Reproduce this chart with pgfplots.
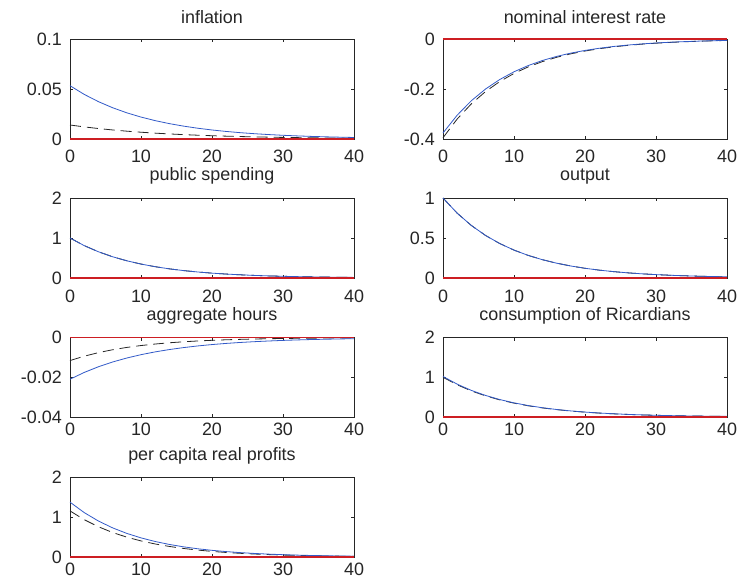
\documentclass[border=0pt]{standalone}
\usepackage{fontspec}
\setmainfont{Liberation Sans}
\usepackage{pgfplots}
\pgfplotsset{compat=1.18}
\definecolor{mblue}{RGB}{50,90,200}
\definecolor{mred}{RGB}{205,30,35}
\definecolor{mgray}{RGB}{38,38,38}
\pgfplotsset{
 every axis title/.style={at={(0.5,1)}, anchor=base, yshift=17.5bp, inner sep=0pt,
   font=\fontsize{18}{18}\selectfont, text=mgray},
 irf/.style={
  scale only axis, width=284bp, anchor=south west,
  xmin=0, xmax=40, xtick={0,10,20,30,40}, xticklabels={0,10,20,30,40},
  xtick pos=both, ytick pos=both, xticklabel pos=lower, yticklabel pos=left,
  tick align=inside, major tick length=3bp, tick style={mgray, line width=0.5bp},
  axis line style={mgray, line width=0.9bp},
  ticklabel style={font=\fontsize{18}{18}\selectfont, text=mgray},
  yticklabel style={inner sep=0pt, anchor=east, xshift=-8bp},
  xticklabel style={inner sep=0pt, anchor=north, yshift=-6bp},
  scaled ticks=false, clip=false,
  /pgf/number format/assume math mode=true,
 },
 dash/.style={black!85, line width=0.8bp, dash pattern=on 11bp off 6bp},
 bl/.style={mblue, line width=0.8bp},
 rd/.style={mred, line width=1.5bp},
}
\begin{document}
\begin{tikzpicture}
\path[use as bounding box] (0,0) rectangle (740bp,-588bp);

% inflation
\begin{axis}[irf, at={(70bp,-139bp)}, height=100bp, ymin=0, ymax=0.1,
  ytick={0,0.05,0.1}, yticklabels={0,0.05,0.1}, title={inflation},
  xticklabel style={yshift=-5bp}, title style={yshift=-1.5bp}]
\addplot[dash] coordinates {(0,0.0140)(2,0.01211)(4,0.01047)(6,0.00906)(8,0.00783)(10,0.00678)(12,0.00586)(14,0.00507)(16,0.00438)(18,0.00379)(20,0.00328)(22,0.00284)(24,0.00245)(26,0.00212)(28,0.00184)(30,0.00159)(32,0.00137)(34,0.00119)(36,0.00103)(38,0.00089)(40,0.00077)};
\addplot[bl] coordinates {(0,0.0533)(2,0.04462)(4,0.03736)(6,0.03128)(8,0.02619)(10,0.02193)(12,0.01836)(14,0.01537)(16,0.01287)(18,0.01077)(20,0.00902)(22,0.00755)(24,0.00632)(26,0.00529)(28,0.00443)(30,0.00371)(32,0.00311)(34,0.00260)(36,0.00218)(38,0.00182)(40,0.00153)};
\addplot[rd] coordinates {(0,0)(40,0)};
\end{axis}

% nominal interest rate
\begin{axis}[irf, at={(443bp,-139bp)}, height=100bp, ymin=-0.4, ymax=0,
  ytick={-0.4,-0.2,0}, yticklabels={-0.4,-0.2,0}, title={nominal interest rate},
  xticklabel style={yshift=-5bp}, title style={yshift=-1.5bp}]
\addplot[dash] coordinates {(0,-0.395)(2,-0.31995)(4,-0.25916)(6,-0.20992)(8,-0.17004)(10,-0.13773)(12,-0.11156)(14,-0.09036)(16,-0.07319)(18,-0.05929)(20,-0.04802)(22,-0.03890)(24,-0.03151)(26,-0.02552)(28,-0.02067)(30,-0.01674)(32,-0.01356)(34,-0.01099)(36,-0.00890)(38,-0.00721)(40,-0.00584)};
\addplot[bl] coordinates {(0,-0.376)(2,-0.30456)(4,-0.24669)(6,-0.19982)(8,-0.16186)(10,-0.13110)(12,-0.10619)(14,-0.08602)(16,-0.06967)(18,-0.05644)(20,-0.04571)(22,-0.03703)(24,-0.02999)(26,-0.02429)(28,-0.01968)(30,-0.01594)(32,-0.01291)(34,-0.01046)(36,-0.00847)(38,-0.00686)(40,-0.00556)};
\addplot[rd] coordinates {(0,0)(40,0)};
\end{axis}

% public spending
\begin{axis}[irf, at={(70bp,-278bp)}, height=80bp, ymin=0, ymax=2,
  ytick={0,1,2}, yticklabels={0,1,2}, title={public spending},
  xticklabel style={yshift=-6bp}]
\addplot[dash] coordinates {(0,1)(2,0.81)(4,0.6561)(6,0.53144)(8,0.43047)(10,0.34868)(12,0.28243)(14,0.22877)(16,0.18530)(18,0.15010)(20,0.12158)(22,0.09848)(24,0.07977)(26,0.06461)(28,0.05233)(30,0.04239)(32,0.03434)(34,0.02781)(36,0.02253)(38,0.01825)(40,0.01478)};
\addplot[bl] coordinates {(0,1)(2,0.81)(4,0.6561)(6,0.53144)(8,0.43047)(10,0.34868)(12,0.28243)(14,0.22877)(16,0.18530)(18,0.15010)(20,0.12158)(22,0.09848)(24,0.07977)(26,0.06461)(28,0.05233)(30,0.04239)(32,0.03434)(34,0.02781)(36,0.02253)(38,0.01825)(40,0.01478)};
\addplot[rd] coordinates {(0,0)(40,0)};
\end{axis}

% output
\begin{axis}[irf, at={(443bp,-278bp)}, height=80bp, ymin=0, ymax=1,
  ytick={0,0.5,1}, yticklabels={0,0.5,1}, title={output},
  xticklabel style={yshift=-6bp}]
\addplot[dash] coordinates {(0,1)(2,0.81)(4,0.6561)(6,0.53144)(8,0.43047)(10,0.34868)(12,0.28243)(14,0.22877)(16,0.18530)(18,0.15010)(20,0.12158)(22,0.09848)(24,0.07977)(26,0.06461)(28,0.05233)(30,0.04239)(32,0.03434)(34,0.02781)(36,0.02253)(38,0.01825)(40,0.01478)};
\addplot[bl] coordinates {(0,1)(2,0.81)(4,0.6561)(6,0.53144)(8,0.43047)(10,0.34868)(12,0.28243)(14,0.22877)(16,0.18530)(18,0.15010)(20,0.12158)(22,0.09848)(24,0.07977)(26,0.06461)(28,0.05233)(30,0.04239)(32,0.03434)(34,0.02781)(36,0.02253)(38,0.01825)(40,0.01478)};
\addplot[rd] coordinates {(0,0)(40,0)};
\end{axis}

% aggregate hours
\begin{axis}[irf, at={(70bp,-417bp)}, height=79.5bp, ymin=-0.04, ymax=0,
  ytick={-0.04,-0.02,0}, yticklabels={-0.04,-0.02,0}, title={aggregate hours}]
\addplot[dash] coordinates {(0,-0.0116)(2,-0.00940)(4,-0.00761)(6,-0.00616)(8,-0.00499)(10,-0.00404)(12,-0.00328)(14,-0.00265)(16,-0.00215)(18,-0.00174)(20,-0.00141)(22,-0.00114)(24,-0.00093)(26,-0.00075)(28,-0.00061)(30,-0.00049)(32,-0.00040)(34,-0.00032)(36,-0.00026)(38,-0.00021)(40,-0.00017)};
\addplot[bl] coordinates {(0,-0.0210)(2,-0.01758)(4,-0.01472)(6,-0.01232)(8,-0.01032)(10,-0.00864)(12,-0.00723)(14,-0.00606)(16,-0.00507)(18,-0.00424)(20,-0.00355)(22,-0.00297)(24,-0.00249)(26,-0.00209)(28,-0.00175)(30,-0.00146)(32,-0.00122)(34,-0.00102)(36,-0.00086)(38,-0.00072)(40,-0.00060)};
\addplot[mred, line width=1bp] coordinates {(0,0)(40,0)};
\end{axis}

% consumption of Ricardians
\begin{axis}[irf, at={(443bp,-417bp)}, height=79.5bp, ymin=0, ymax=2,
  ytick={0,1,2}, yticklabels={0,1,2}, title={consumption of Ricardians}]
\addplot[dash] coordinates {(0,1)(2,0.81)(4,0.6561)(6,0.53144)(8,0.43047)(10,0.34868)(12,0.28243)(14,0.22877)(16,0.18530)(18,0.15010)(20,0.12158)(22,0.09848)(24,0.07977)(26,0.06461)(28,0.05233)(30,0.04239)(32,0.03434)(34,0.02781)(36,0.02253)(38,0.01825)(40,0.01478)};
\addplot[bl] coordinates {(0,1.02)(2,0.826)(4,0.669)(6,0.542)(8,0.439)(10,0.3557)(12,0.2881)(14,0.2334)(16,0.1890)(18,0.1531)(20,0.1240)(22,0.1004)(24,0.0814)(26,0.0659)(28,0.0534)(30,0.0432)(32,0.0350)(34,0.0284)(36,0.0230)(38,0.0186)(40,0.0151)};
\addplot[rd] coordinates {(0,0)(40,0)};
\end{axis}

% per capita real profits
\begin{axis}[irf, at={(70bp,-557bp)}, height=79.5bp, ymin=0, ymax=2,
  ytick={0,1,2}, yticklabels={0,1,2}, title={per capita real profits}]
\addplot[dash] coordinates {(0,1.16)(2,0.9396)(4,0.7611)(6,0.6165)(8,0.4993)(10,0.4045)(12,0.3276)(14,0.2654)(16,0.2149)(18,0.1741)(20,0.1410)(22,0.1142)(24,0.0925)(26,0.0749)(28,0.0607)(30,0.0492)(32,0.0398)(34,0.0323)(36,0.0261)(38,0.0212)(40,0.0171)};
\addplot[bl] coordinates {(0,1.38)(2,1.1178)(4,0.9054)(6,0.7334)(8,0.5940)(10,0.4812)(12,0.3898)(14,0.3157)(16,0.2557)(18,0.2071)(20,0.1678)(22,0.1359)(24,0.1101)(26,0.0892)(28,0.0722)(30,0.0585)(32,0.0474)(34,0.0384)(36,0.0311)(38,0.0252)(40,0.0204)};
\addplot[rd] coordinates {(0,0)(40,0)};
\end{axis}
\end{tikzpicture}
\end{document}
